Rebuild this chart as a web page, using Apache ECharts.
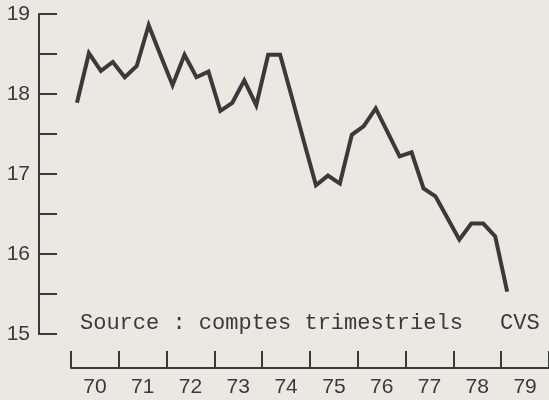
<!DOCTYPE html>
<html>
<head>
<meta charset="utf-8">
<script src="https://cdn.jsdelivr.net/npm/echarts@6/dist/echarts.min.js"></script>
<style>
  html, body { margin: 0; padding: 0; background: #e9e8e3; }
  #chart { width: 549px; height: 400px; }
</style>
</head>
<body>
<div id="chart"></div>
<script>
// years on the bottom axis, one band per year
var years = ['70', '71', '72', '73', '74', '75', '76', '77', '78', '79'];
// quarterly categories (T1..T4) used to place the points
var quarters = [];
years.forEach(function (y) {
    quarters.push(y + 'T1', y + 'T2', y + 'T3', y + 'T4');
});
// quarterly values, 1970 T1 -> 1979 T1
var values = [
    17.89, 18.51, 18.29, 18.40,
    18.21, 18.35, 18.86, 18.48,
    18.11, 18.49, 18.21, 18.28,
    17.79, 17.89, 18.17, 17.86,
    18.49, 18.49, 17.95, 17.40,
    16.86, 16.98, 16.88, 17.49,
    17.60, 17.82, 17.52, 17.22,
    17.27, 16.82, 16.72, 16.45,
    16.18, 16.38, 16.38, 16.22,
    15.53
];

var ink = '#3a3a3a';

option = {
    backgroundColor: '#e9e8e3',
    animation: false,
    grid: {
        left: 71,
        top: 14,
        width: 480,
        height: 320
    },
    xAxis: [
        {
            type: 'category',
            data: quarters,
            boundaryGap: true,
            show: false
        },
        {
            type: 'category',
            data: years,
            position: 'bottom',
            offset: 34,
            boundaryGap: true,
            axisLine: {lineStyle: {color: ink, width: 2}},
            axisTick: {
                show: true,
                inside: true,
                length: 17,
                interval: 0,
                lineStyle: {color: ink, width: 2}
            },
            axisLabel: {
                interval: 0,
                margin: 9,
                color: ink,
                fontSize: 21,
                fontFamily: 'Liberation Sans'
            }
        }
    ],
    yAxis: {
        type: 'value',
        min: 15,
        max: 19,
        interval: 0.5,
        offset: 32,
        splitLine: {show: false},
        axisLine: {show: true, lineStyle: {color: ink, width: 2}},
        axisTick: {
            show: true,
            inside: true,
            length: 18,
            lineStyle: {color: ink, width: 2}
        },
        axisLabel: {
            margin: 9,
            color: ink,
            fontSize: 21,
            fontFamily: 'Liberation Sans',
            formatter: function (v) {
                return v % 1 === 0 ? String(v) : '';
            }
        }
    },
    graphic: [
        {
            type: 'text',
            left: 80,
            top: 312,
            style: {
                text: 'Source : comptes trimestriels',
                fill: ink,
                font: '22px "Liberation Mono"'
            }
        },
        {
            type: 'text',
            left: 500,
            top: 312,
            style: {
                text: 'CVS',
                fill: ink,
                font: '22px "Liberation Mono"'
            }
        }
    ],
    series: [
        {
            type: 'line',
            xAxisIndex: 0,
            data: values,
            symbol: 'none',
            lineStyle: {color: ink, width: 4, join: 'miter'}
        }
    ]
};
var myChart = echarts.init(document.getElementById('chart'));
myChart.setOption(option);
</script>
</body>
</html>
